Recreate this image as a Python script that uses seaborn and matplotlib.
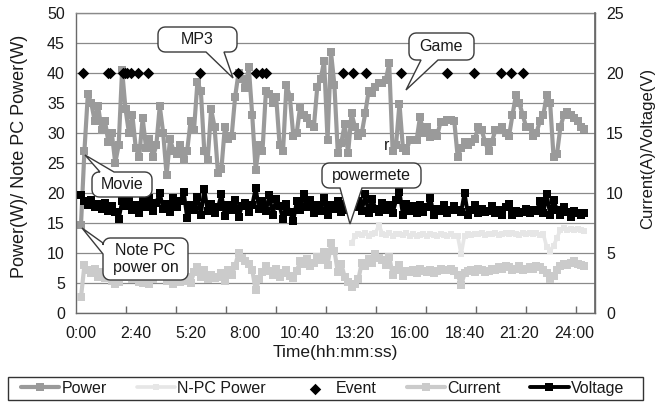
import numpy as np
import matplotlib
matplotlib.use("Agg")
import matplotlib.pyplot as plt
import seaborn as sns
from matplotlib.patches import Polygon, Rectangle

# ---------------- data ----------------
times = list(range(0, 1480, 10))  # seconds

power = [
    14.7, 27, 36.5, 35, 32, 34.5, 30.5, 32, 28.5, 30,
    25, 28, 40.5, 34, 30, 33, 27.5, 26, 32.5, 27.5,
    29, 26, 28, 34.5, 30, 23, 29, 27, 26.5, 28,
    25.5, 27, 32, 30.5, 38.5, 37, 27, 25.5, 34, 31,
    23.3, 24, 31, 29, 29.5, 36, 40, 39, 37.5, 41,
    33, 23.8, 28, 27, 37, 36.5, 35, 36, 28, 27,
    38, 36, 29.5, 30, 34.4, 33, 32.5, 31.5, 31, 37.7,
    39, 42, 28.8, 43.5, 38, 26.6, 28.3, 31.5, 26.6, 33.3,
    31, 29.5, 30, 33.3, 37, 36.6, 37.7, 38.3, 38.3, 38.8,
    41.6, 27, 28, 34.9, 27.5, 27, 28.8, 28.8, 28.8, 32.7,
    30, 31, 29.4, 30, 29.5, 31.9, 31.9, 32.2, 32.2, 32,
    26, 27.5, 28.5, 28, 28.5, 29, 31, 30.5, 28.5, 27,
    28.5, 30.5, 30.5, 31, 30, 29.5, 33, 36.3, 35, 33,
    31, 31, 29.5, 30, 32, 33, 36.3, 35, 26, 26.5,
    31, 33, 33.5, 33, 32.5, 32, 31, 30.7,
]

voltage = [
    9.8, 9.3, 9.0, 9.4, 8.8, 9.1, 8.7, 9.2, 8.5, 8.9,
    8.4, 7.8, 9.3, 8.9, 9.5, 8.6, 9.0, 8.3, 9.4, 8.8,
    9.6, 8.5, 9.2, 10.0, 8.7, 9.1, 8.4, 9.6, 8.8, 9.3,
    10.1, 7.9, 9.0, 8.6, 9.7, 8.2, 10.3, 8.5, 9.1, 8.3,
    8.8, 9.9, 8.1, 9.0, 8.6, 9.4, 8.0, 8.9, 9.2, 8.4,
    9.0, 10.4, 8.7, 9.3, 8.5, 9.8, 8.2, 9.5, 8.9, 7.8,
    9.1, 8.4, 7.7, 9.3, 8.6, 9.9, 8.8, 9.4, 8.3, 9.0,
    8.5, 9.6, 8.2, 9.0, 8.7, 9.3, 8.4, 9.1, 8.6, 9.0,
    8.8, 9.3, 8.5, 9.9, 8.3, 9.5, 8.7, 8.4, 9.2, 8.6,
    9.0, 8.3, 9.4, 10.1, 8.2, 9.1, 8.5, 8.9, 8.3, 9.0,
    8.4, 8.8, 9.6, 8.2, 8.7, 8.5, 9.0, 8.3, 8.6, 8.9,
    8.6, 8.4, 10.0, 8.2, 8.6, 9.0, 8.3, 8.7, 8.4, 8.5,
    8.9, 8.3, 8.6, 8.2, 8.8, 9.1, 8.2, 8.5, 8.3, 8.4,
    8.7, 8.3, 8.6, 8.5, 9.3, 8.3, 9.9, 8.2, 9.4, 8.6,
    8.2, 8.8, 8.4, 8.0, 8.5, 8.3, 8.2, 8.3,
]

current = [
    1.3, 4.0, 3.6, 3.3, 3.7, 3.0, 3.4, 2.9, 3.2, 2.7,
    2.4, 2.6, 3.4, 3.0, 3.5, 2.8, 3.2, 2.6, 2.5, 2.9,
    2.4, 2.8, 3.3, 3.9, 3.1, 2.7, 3.3, 2.4, 2.9, 2.6,
    2.7, 3.0, 2.5, 3.4, 3.8, 3.0, 3.6, 2.8, 3.2, 2.9,
    3.0, 3.3, 2.7, 3.6, 3.2, 3.9, 5.0, 4.6, 4.3, 4.1,
    3.6, 1.9, 2.8, 3.4, 3.9, 3.5, 3.2, 3.7, 3.0, 3.3,
    3.6, 3.1, 2.9, 3.5, 4.3, 4.1, 4.5, 3.9, 4.2, 4.7,
    4.4, 5.1, 4.0, 5.8, 5.2, 3.4, 4.1, 3.0, 2.6, 2.2,
    2.4, 2.8, 4.2, 3.9, 4.5, 4.2, 4.9, 4.6, 4.4, 4.0,
    4.7, 3.2, 3.6, 4.0, 3.1, 3.5, 3.4, 3.6, 3.3, 3.7,
    3.5, 3.4, 3.6, 3.3, 3.5, 3.7, 3.6, 3.6, 3.7, 3.5,
    3.2, 2.3, 3.3, 3.5, 3.6, 3.4, 3.7, 3.6, 3.4, 3.5,
    3.7, 3.6, 3.8, 3.7, 3.9, 3.8, 3.6, 3.7, 3.9, 3.6,
    3.7, 3.8, 3.7, 3.9, 3.8, 3.6, 3.3, 2.8, 3.1, 3.6,
    3.9, 4.1, 4.0, 4.2, 4.3, 4.1, 4.0, 3.9,
]

npc_start = 790
npc_power = [
    11.6,
    12.8, 13.2, 13.0, 13.4, 12.9, 13.1, 13.3, 14.7, 13.2, 13.0,
    13.3, 12.9, 13.1, 13.2, 13.0, 13.3, 12.9, 13.1, 12.8, 13.0,
    13.2, 12.9, 13.1, 13.0, 12.8, 13.1, 13.0, 12.9, 13.2, 12.9,
    12.8, 9.8, 12.9, 13.1, 13.0, 13.2, 13.1, 13.3, 13.0, 13.2,
    13.1, 13.3, 13.0, 13.2, 13.4, 13.1, 13.3, 13.2, 13.0, 13.3,
    13.2, 13.4, 13.1, 13.3, 13.0, 13.2, 11.0, 10.4, 11.2, 12.5,
    13.9, 14.1, 13.8, 14.0, 13.9, 14.0, 13.8, 13.7,
]

event_times = [5, 78, 85, 122, 128, 134, 145, 167, 197, 348, 459, 510, 528,
               539, 764, 794, 832, 935, 1068, 1149, 1227, 1256, 1290]
event_level = [40] * len(event_times)

xtick_labels = ["0:00", "2:40", "5:20", "8:00", "10:40", "13:20",
                "16:00", "18:40", "21:20", "24:00"]
xtick_pos = [160 * i for i in range(len(xtick_labels))]

# ---------------- style ----------------
sns.set_theme(style="white")
plt.rcParams["font.family"] = ["Liberation Sans", "DejaVu Sans"]
TXT = "#1a1a1a"

W, H = 662, 403
fig = plt.figure(figsize=(W / 100, H / 100), dpi=100)
ax = fig.add_axes([76 / W, 1 - 313 / H, (595 - 76) / W, 300 / H])
ax2 = ax.twinx()

c_power = "#9a9a9a"
c_npc = "#e6e6e6"
c_cur = "#cbcbcb"
c_volt = "#000000"

sns.lineplot(x=times, y=power, ax=ax, color=c_power, marker="s",
             markersize=6.3, markeredgewidth=0, linewidth=3.0,
             label="Power", legend=False)
t_npc = [t for t in times if t >= npc_start]
sns.lineplot(x=t_npc, y=npc_power, ax=ax, color=c_npc, marker="s",
             markersize=4.2, markeredgewidth=0, linewidth=2.6,
             label="N-PC Power", legend=False)
sns.scatterplot(x=event_times, y=event_level, ax=ax, color="black",
                marker="D", s=34, linewidth=0, label="Event", legend=False,
                zorder=5)
sns.lineplot(x=times, y=current, ax=ax2, color=c_cur, marker="s",
             markersize=6.0, markeredgewidth=0, linewidth=3.0,
             label="Current", legend=False)
sns.lineplot(x=times, y=voltage, ax=ax2, color=c_volt, marker="s",
             markersize=6.3, markeredgewidth=0, linewidth=2.8,
             label="Voltage", legend=False)

ax.set_xlim(-14.6, 1501)
ax.set_ylim(0, 50)
ax2.set_ylim(0, 25)
ax.set_yticks(range(0, 51, 5))
ax2.set_yticks(range(0, 26, 5))
ax.set_xticks(xtick_pos)
ax.set_xticklabels(xtick_labels)
minor = [146.03 * k - 14.6 for k in range(1, 11)]
ax.set_xticks(minor, minor=True)

ax.yaxis.grid(True, color="#8a8a8a", linewidth=0.9)
ax.set_axisbelow(True)
for s in ["left", "bottom", "right", "top"]:
    ax.spines[s].set_color("#6a6a6a")
    ax.spines[s].set_linewidth(1.0)
ax.spines["top"].set_color("#8a8a8a")
for s in ["left", "bottom", "top"]:
    ax2.spines[s].set_visible(False)
ax2.spines["right"].set_color("#6a6a6a")

fs_tick = 11.5
ax.tick_params(axis="x", which="major", length=0, pad=9, labelsize=fs_tick,
               labelcolor=TXT)
ax.tick_params(axis="x", which="minor", length=5, direction="in",
               color="#6a6a6a", width=1, bottom=True)
ax.tick_params(axis="y", length=0, pad=8, labelsize=fs_tick, labelcolor=TXT)
ax2.tick_params(axis="y", length=0, pad=8, labelsize=fs_tick, labelcolor=TXT)
ax2.grid(False)

ax.set_xlabel("Time(hh:mm:ss)", fontsize=12.5, color=TXT, labelpad=3)
ax.set_ylabel("Power(W)/ Note PC Power(W)", fontsize=13, color=TXT)
ax.yaxis.set_label_coords(-0.0925, 0.523)
ax2.set_ylabel("Current(A)/Voltage(V)", fontsize=12, color=TXT)
ax2.yaxis.set_label_coords(1.0867, 0.55)

# ---------------- legend ----------------
h1, l1 = ax.get_legend_handles_labels()
h2, l2 = ax2.get_legend_handles_labels()
hd = dict(zip(l1 + l2, h1 + h2))
order = ["Power", "N-PC Power", "Event", "Current", "Voltage"]
leg = fig.legend([hd[k] for k in order], order, ncol=5,
                 bbox_to_anchor=(21 / W, 1 - 388.5 / H),
                 loc="center left", borderaxespad=0, borderpad=0,
                 fontsize=fs_tick, frameon=False,
                 handlelength=2.4, handletextpad=0.15,
                 columnspacing=1.85)
for t in leg.get_texts():
    t.set_color(TXT)
frame = Rectangle((8 / W, 1 - 400 / H), 635 / W, 23 / H,
                  transform=fig.transFigure, facecolor="none",
                  edgecolor="#333333", linewidth=1.0, zorder=4)
fig.add_artist(frame)


# ---------------- callouts (figure pixel layout) ----------------
def to_fig(p):
    return (p[0] / W, 1 - p[1] / H)


def arc(cx, cy, r, a0, a1, n=6):
    a = np.radians(np.linspace(a0, a1, n))
    return [(cx + r * np.cos(v), cy + r * np.sin(v)) for v in a]


def callout(box, side, b1, b2, tip, text, r=7, fs=fs_tick, ls=1.2):
    x0, y0, x1, y1 = box
    pts = []
    pts += [(x0 + r, y0)]
    if side == "top":
        pts += [(b1, y0), tip, (b2, y0)]
    pts += arc(x1 - r, y0 + r, r, -90, 0)
    if side == "right":
        pts += [(x1, b1), tip, (x1, b2)]
    pts += arc(x1 - r, y1 - r, r, 0, 90)
    if side == "bottom":
        pts += [(b2, y1), tip, (b1, y1)]
    pts += arc(x0 + r, y1 - r, r, 90, 180)
    if side == "left":
        pts += [(x0, b2), tip, (x0, b1)]
    pts += arc(x0 + r, y0 + r, r, 180, 270)
    poly = Polygon([to_fig(p) for p in pts], closed=True,
                   transform=fig.transFigure, facecolor="white",
                   edgecolor="#3a3a3a", linewidth=1.0, zorder=5)
    fig.add_artist(poly)
    cx, cy = (x0 + x1) / 2, (y0 + y1) / 2
    fig.text(cx / W, 1 - cy / H, text, ha="center", va="center",
             fontsize=fs, color=TXT, zorder=6, linespacing=ls)


callout((158, 27, 237, 52), "bottom", 206, 224, (233, 78), "MP3")
callout((409, 33, 474, 60), "bottom", 421, 438, (406, 90), "Game")
callout((92, 172, 152, 197), "top", 100, 114, (85, 155), "Movie")
callout((322, 163, 421, 188), "bottom", 340, 362, (350, 224), "powermete")
callout((103, 238, 188, 280), "left", 243, 254, (82, 228),
        "Note PC\npower on")
fig.text(387 / W, 1 - 145 / H, "r", ha="center", va="center",
         fontsize=fs_tick, color=TXT)

fig.savefig("out.png", dpi=100)
